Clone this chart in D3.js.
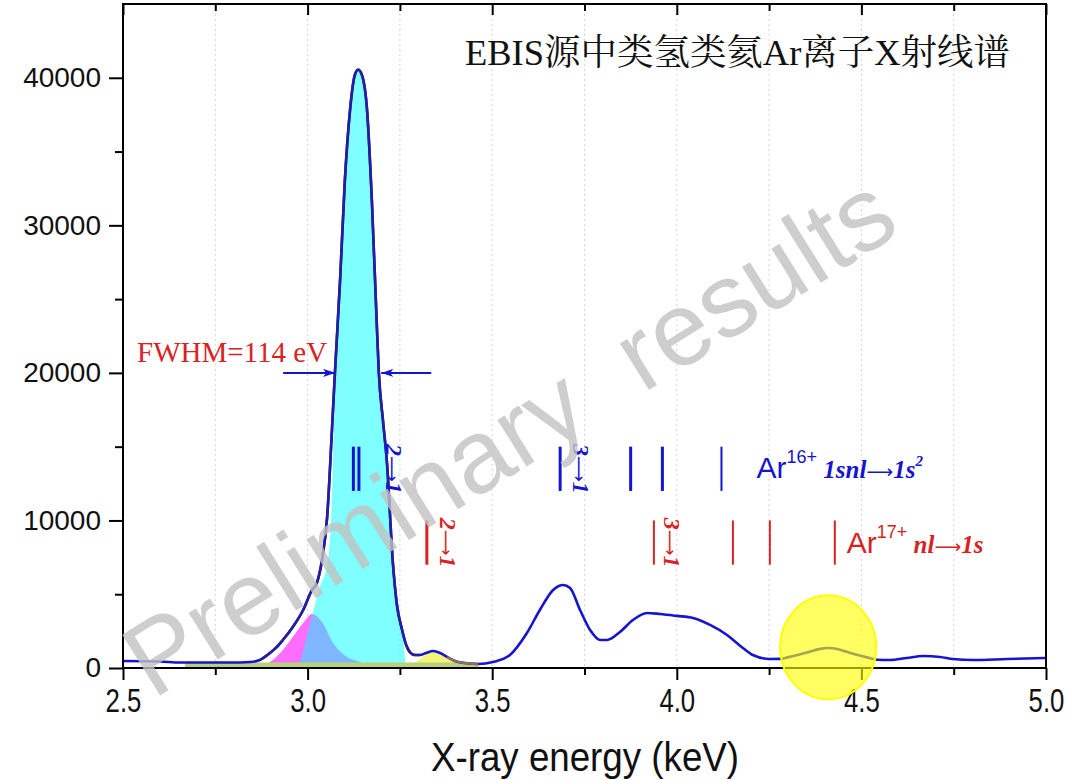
<!DOCTYPE html>
<html>
<head>
<meta charset="utf-8">
<script src="https://cdn.jsdelivr.net/npm/d3@7"></script>
<style>
  html, body { margin: 0; padding: 0; background: #fff; }
  svg { display: block; }
</style>
</head>
<body>
<svg id="chart" width="1067" height="780"></svg>
<script>
// Measured spectrum (keV, counts)
const energy = [2.500, 2.600, 2.654, 2.709, 2.790, 2.844, 2.871, 2.898, 2.914, 2.933, 2.960, 2.988, 3.012, 3.025, 3.039, 3.053, 3.066, 3.074, 3.088, 3.101, 3.115, 3.128, 3.137, 3.147, 3.161, 3.174, 3.188, 3.193, 3.204, 3.215, 3.231, 3.242, 3.256, 3.267, 3.277, 3.291, 3.304, 3.321, 3.340, 3.359, 3.378, 3.399, 3.426, 3.462, 3.502, 3.548, 3.594, 3.629, 3.665, 3.692, 3.711, 3.738, 3.765, 3.792, 3.811, 3.846, 3.881, 3.919, 3.954, 4.000, 4.044, 4.090, 4.136, 4.179, 4.206, 4.252, 4.280, 4.300, 4.330, 4.360, 4.385, 4.410, 4.435, 4.460, 4.490, 4.515, 4.542, 4.577, 4.623, 4.667, 4.713, 4.748, 4.802, 4.894, 5.000];
const counts = [475, 440, 370, 370, 370, 405, 540, 1020, 1360, 1900, 2780, 3930, 5290, 5760, 7320, 10240, 16140, 20000, 26300, 33080, 37830, 40200, 40540, 40200, 37830, 31730, 22920, 20000, 16810, 13900, 7120, 4270, 2580, 1560, 1080, 880, 880, 1020, 1150, 1020, 750, 475, 340, 270, 405, 880, 2370, 3930, 5290, 5630, 5420, 3930, 2580, 1900, 1900, 2440, 3250, 3730, 3660, 3530, 3390, 2920, 2240, 1360, 880, 610, 620, 720, 900, 1100, 1280, 1360, 1290, 1100, 880, 720, 560, 540, 680, 810, 750, 610, 540, 610, 680];

// Fitted components
const magentaE = [2.860, 2.880, 2.898, 2.933, 2.960, 2.988, 3.012, 3.039, 3.069, 3.107, 3.142, 3.170, 3.190];
const magentaC = [0, 150, 400, 1220, 2100, 3050, 3660, 3120, 1700, 750, 400, 100, 0];
const cyanE = [2.970, 2.979, 2.995, 3.014, 3.033, 3.055, 3.066, 3.071, 3.077, 3.088, 3.101, 3.115, 3.128, 3.137, 3.147, 3.161, 3.174, 3.188, 3.193, 3.204, 3.215, 3.231, 3.242, 3.253, 3.261, 3.265, 3.270];
const cyanC = [0, 400, 1900, 3730, 5420, 7320, 11600, 16140, 20000, 26300, 33080, 37830, 40200, 40540, 40200, 37830, 31730, 22920, 20000, 16810, 13900, 7120, 4270, 2800, 1500, 400, 0];
const yellowE = [3.262, 3.285, 3.304, 3.321, 3.340, 3.359, 3.378, 3.400, 3.430, 3.462, 3.470];
const yellowC = [0, 300, 600, 950, 1100, 950, 650, 400, 250, 150, 0];
const backgroundE = [2.668, 3.462];
const backgroundC = [380, 380];

// Transition energies (keV)
const ar16Lines = [3.124, 3.139, 3.684, 3.875, 3.961, 4.121];
const ar17Lines = [3.323, 3.938, 4.152, 4.252, 4.428];
const ar16Band = [12000, 15000];
const ar17Band = [7000, 10000];

// Peak width annotation
const fwhmEV = 114;
const peakCenter = 3.137;
const halfMax = 20000;

// Weak feature that is highlighted
const highlightE = 4.41;
const highlightC = 1400;

// Axis ticks
const xTicks = [2.5, 3.0, 3.5, 4.0, 4.5, 5.0];
const xMinor = [2.75, 3.25, 3.75, 4.25, 4.75];
const yTicks = [0, 10000, 20000, 30000, 40000];
const yMinor = [5000, 15000, 25000, 35000];

const svg = d3.select("#chart");
const L = 123, R = 1046, T = 4, B = 668;
const x = d3.scaleLinear().domain([2.5, 5.0]).range([L, R]);
const y = d3.scaleLinear().domain([0, 45000]).range([B, T]);

const BLUE = "#1515cf", RED = "#d92323";
const serif = "'Liberation Serif', 'Times New Roman', serif";
const sans = "'Liberation Sans', Arial, sans-serif";
const arrowFont = "'DejaVu Sans', sans-serif";

// vertical dotted grid
svg.append("g").selectAll("line")
  .data(d3.range(2.75, 4.9, 0.25))
  .join("line")
  .attr("x1", d => x(d)).attr("x2", d => x(d))
  .attr("y1", T).attr("y2", B)
  .attr("stroke", "#d4d4d4").attr("stroke-width", 1)
  .attr("stroke-dasharray", "2,3");

const zip = (xs, ys) => xs.map((v, i) => [v, ys[i]]);
const area = d3.area().x(d => x(d[0])).y0(y(0)).y1(d => y(d[1])).curve(d3.curveMonotoneX);
const line = d3.line().x(d => x(d[0])).y(d => y(d[1])).curve(d3.curveMonotoneX);

// fit components
svg.append("path").datum(zip(magentaE, magentaC)).attr("d", area).attr("fill", "#ff6cff");
svg.append("path").datum(zip(cyanE, cyanC)).attr("d", area).attr("fill", "#00ffff").attr("fill-opacity", 0.5);
svg.append("path").datum(zip(yellowE, yellowC)).attr("d", area).attr("fill", "#f3f36a").attr("fill-opacity", 0.9);
svg.append("path").datum(zip(backgroundE, backgroundC)).attr("d", area.curve(d3.curveLinear)).attr("fill", "#b9d27a");

// spectrum
const spec = zip(energy, counts);
svg.append("path").datum(spec).attr("d", line)
  .attr("fill", "none").attr("stroke", BLUE).attr("stroke-width", 2.6).attr("stroke-linejoin", "round");
svg.append("path").datum(spec.filter(d => d[0] >= 2.86 && d[0] <= 3.31)).attr("d", line)
  .attr("fill", "none").attr("stroke", "#25209a").attr("stroke-width", 2.6);
svg.append("path").datum(spec.filter(d => d[0] >= 3.36 && d[0] <= 3.47)).attr("d", line)
  .attr("fill", "none").attr("stroke", "#8f6f62").attr("stroke-width", 2.4);

// transition markers
svg.append("g").selectAll("line").data(ar16Lines).join("line")
  .attr("x1", d => x(d)).attr("x2", d => x(d))
  .attr("y1", y(ar16Band[0])).attr("y2", y(ar16Band[1]))
  .attr("stroke", BLUE).attr("stroke-width", (d, i) => i < 5 ? 3 : 2);
svg.append("g").selectAll("line").data(ar17Lines).join("line")
  .attr("x1", d => x(d)).attr("x2", d => x(d))
  .attr("y1", y(ar17Band[0])).attr("y2", y(ar17Band[1]))
  .attr("stroke", RED).attr("stroke-width", (d, i) => i === 0 ? 3 : 2);

// italic serif transition text with a long arrow
function transition(t, from, to, size) {
  const base = s => s.attr("font-family", serif).attr("font-style", "italic").attr("font-weight", "bold");
  base(t.append("tspan")).attr("font-size", size).text(from);
  t.append("tspan").attr("font-family", arrowFont).attr("font-size", size * 0.75).text("⟶");
  base(t.append("tspan")).attr("font-size", size).text(to);
}

// rotated transition labels
function vlabel(px, cy, from, to, color) {
  const t = svg.append("text")
    .attr("transform", `translate(${px},${cy}) rotate(90)`)
    .attr("text-anchor", "middle").attr("fill", color);
  transition(t, from, to, 24);
}
vlabel(x(ar16Lines[1]) + 27, y((ar16Band[0] + ar16Band[1]) / 2), "2", "1", BLUE);
vlabel(x(ar16Lines[2]) + 13, y((ar16Band[0] + ar16Band[1]) / 2), "3", "1", BLUE);
vlabel(x(ar17Lines[0]) + 13, y((ar17Band[0] + ar17Band[1]) / 2), "2", "1", RED);
vlabel(x(ar17Lines[1]) + 10, y((ar17Band[0] + ar17Band[1]) / 2), "3", "1", RED);

// series labels
function ionLabel(px, py, charge, from, to, sup, color) {
  const t = svg.append("text").attr("x", px).attr("y", py).attr("fill", color);
  t.append("tspan").attr("font-family", sans).attr("font-size", 30).text("Ar");
  t.append("tspan").attr("font-family", sans).attr("font-size", 18).attr("dy", -15).text(charge);
  t.append("tspan").attr("font-size", 25).attr("dy", 15).text("\u00a0");
  transition(t, from, to, 25);
  if (sup) {
    t.append("tspan").attr("font-family", serif).attr("font-style", "italic").attr("font-weight", "bold")
      .attr("font-size", 15).attr("dy", -12).text(sup);
  }
}
ionLabel(x(ar16Lines[5]) + 35, y(12900), "16+", "1snl", "1s", "2", BLUE);
ionLabel(x(ar17Lines[4]) + 12, y(7800), "17+", "nl", "1s", null, RED);

// FWHM arrows
const defs = svg.append("defs");
defs.append("marker").attr("id", "ah").attr("viewBox", "0 0 12 8")
  .attr("refX", 12).attr("refY", 4).attr("markerWidth", 12).attr("markerHeight", 8)
  .attr("markerUnits", "userSpaceOnUse").attr("orient", "auto")
  .append("path").attr("d", "M0,0 L12,4 L0,8 L3,4 Z").attr("fill", BLUE);
const halfW = fwhmEV / 1000 / 2;
svg.append("line")
  .attr("x1", x(peakCenter - halfW) - 54).attr("x2", x(peakCenter - halfW) - 2)
  .attr("y1", y(halfMax)).attr("y2", y(halfMax))
  .attr("stroke", BLUE).attr("stroke-width", 2).attr("marker-end", "url(#ah)");
svg.append("line")
  .attr("x1", x(peakCenter + halfW) + 52).attr("x2", x(peakCenter + halfW) + 2)
  .attr("y1", y(halfMax)).attr("y2", y(halfMax))
  .attr("stroke", BLUE).attr("stroke-width", 2).attr("marker-end", "url(#ah)");
svg.append("text").attr("x", 137).attr("y", 362)
  .attr("font-family", serif).attr("font-size", 29).attr("fill", RED)
  .text(`FWHM=${fwhmEV} eV`);

// axes
const axisStyle = g => {
  g.select(".domain").remove();
  g.selectAll(".tick line").attr("stroke", "#000").attr("stroke-width", 2);
};
svg.append("g").attr("transform", `translate(0,${B})`)
  .call(d3.axisBottom(x).tickValues(xMinor).tickSize(7).tickFormat(""))
  .call(axisStyle);
const xa = svg.append("g").attr("transform", `translate(0,${B})`)
  .call(d3.axisBottom(x).tickValues(xTicks).tickSize(12).tickPadding(9).tickFormat(d3.format(".1f")))
  .call(axisStyle);
xa.selectAll("text").attr("font-family", sans).attr("font-size", 33).attr("fill", "#111")
  .attr("transform", "scale(0.78,1)");

svg.append("g").attr("transform", `translate(${L},0)`)
  .call(d3.axisLeft(y).tickValues(yMinor).tickSize(8).tickFormat(""))
  .call(axisStyle);
const ya = svg.append("g").attr("transform", `translate(${L},0)`)
  .call(d3.axisLeft(y).tickValues(yTicks).tickSize(14).tickPadding(8).tickFormat(d3.format("d")))
  .call(axisStyle);
ya.selectAll("text").attr("font-family", sans).attr("font-size", 28).attr("fill", "#111");

// top axis, inward ticks
svg.append("g").attr("transform", `translate(0,${T})`)
  .call(d3.axisTop(x).tickValues(xTicks).tickSize(-11).tickFormat(""))
  .call(axisStyle);
svg.append("g").attr("transform", `translate(0,${T})`)
  .call(d3.axisTop(x).tickValues(xMinor).tickSize(-7).tickFormat(""))
  .call(axisStyle);

// frame
svg.append("rect").attr("x", L).attr("y", T).attr("width", R - L).attr("height", B - T)
  .attr("fill", "none").attr("stroke", "#000").attr("stroke-width", 2);

// axis title
svg.append("text").attr("x", 585).attr("y", 771).attr("text-anchor", "middle")
  .attr("font-family", sans).attr("font-size", 41).attr("fill", "#111")
  .attr("textLength", 308).attr("lengthAdjust", "spacingAndGlyphs")
  .text("X-ray energy (keV)");

// chart title
svg.append("text").attr("x", 465).attr("y", 65)
  .attr("font-family", "'Liberation Serif', 'Noto Serif CJK SC', 'Noto Sans CJK SC', serif")
  .attr("font-size", 36).attr("fill", "#111")
  .attr("textLength", 545).attr("lengthAdjust", "spacingAndGlyphs")
  .text("EBIS源中类氢类氦Ar离子X射线谱");

// highlighted weak line
svg.append("ellipse").attr("cx", x(highlightE)).attr("cy", y(highlightC))
  .attr("rx", 48).attr("ry", 52)
  .attr("fill", "#ffff00").attr("fill-opacity", 0.62)
  .attr("stroke", "#ffff00").attr("stroke-width", 2);

// watermark
svg.append("text")
  .attr("transform", "translate(153,700) rotate(-32)")
  .attr("font-family", sans).attr("font-size", 104)
  .attr("fill", "#c2c2c2").attr("fill-opacity", 0.8)
  .attr("xml:space", "preserve")
  .text("Preliminary  results");
</script>
</body>
</html>
